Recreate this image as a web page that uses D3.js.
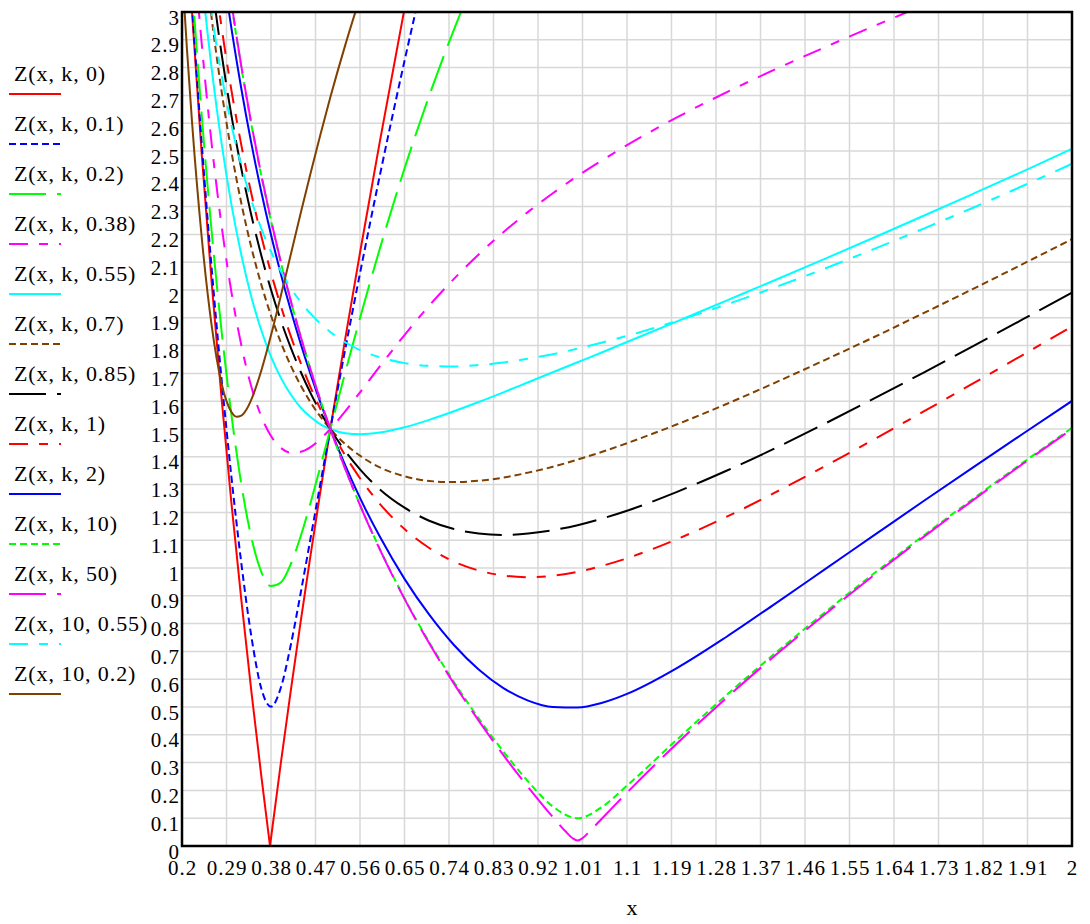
<!DOCTYPE html>
<head>
<meta charset="UTF-8">
<script src="https://d3js.org/d3.v7.min.js"></script>
<style>
	body{ margin: 0; background-color: white; }
	text{ font-family: 'Liberation Serif', 'Times New Roman', serif; fill: black; }
</style>
</head>
<body>
<svg width=1090 height=924></svg>
<script>
	// x values shared by most traces
	var xGrid = [0.2, 0.22, 0.24, 0.26, 0.28, 0.3, 0.32, 0.34, 0.36, 0.38, 0.4, 0.42, 0.44, 0.46, 0.48, 0.5,
		0.53, 0.56, 0.6, 0.65, 0.7, 0.75, 0.8, 0.85, 0.9, 0.95, 1.0, 1.05, 1.1, 1.2, 1.3, 1.4, 1.5, 1.6, 1.7, 1.8, 1.9, 2.0];

	// traces with their own x values (sharp minimum)
	var xZeta0 = [0.2, 0.22, 0.24, 0.26, 0.28, 0.3, 0.32, 0.34, 0.36, 0.378, 0.4, 0.42, 0.44, 0.46, 0.48, 0.5, 0.53, 0.56, 0.6, 0.65, 0.7];
	var xZeta50 = [0.2, 0.22, 0.24, 0.26, 0.28, 0.3, 0.32, 0.34, 0.36, 0.38, 0.4, 0.42, 0.44, 0.46, 0.48, 0.5,
		0.53, 0.56, 0.6, 0.65, 0.7, 0.75, 0.8, 0.85, 0.9, 0.95, 0.975, 0.99, 1.0, 1.01, 1.025, 1.05, 1.1, 1.2, 1.3, 1.4, 1.5, 1.6, 1.7, 1.8, 1.9, 2.0];
	var xK10z02 = [0.2, 0.21, 0.22, 0.24, 0.26, 0.28, 0.29, 0.3, 0.31, 0.32, 0.33, 0.34, 0.36, 0.38, 0.4, 0.42, 0.44, 0.46, 0.48, 0.5, 0.53, 0.56];

	// Z values
	var zZeta0 = [3.6, 3.006, 2.487, 2.026, 1.611, 1.233, 0.885, 0.561, 0.258, 0, 0.3, 0.559, 0.807, 1.046, 1.277, 1.5, 1.823, 2.134, 2.533, 3.012, 3.471];
	var zZeta01 = [3.62, 3.033, 2.524, 2.077, 1.68, 1.327, 1.017, 0.757, 0.569, 0.501, 0.57, 0.723, 0.91, 1.107, 1.305, 1.5, 1.786, 2.06, 2.411, 2.824, 3.213];
	var zZeta02 = [3.676, 3.109, 2.625, 2.21, 1.853, 1.55, 1.301, 1.112, 0.988, 0.935, 0.948, 1.014, 1.114, 1.235, 1.365, 1.5, 1.702, 1.899, 2.148, 2.437, 2.699, 2.937, 3.153];
	var zZeta038 = [3.833, 3.313, 2.883, 2.526, 2.232, 1.992, 1.801, 1.654, 1.547, 1.475, 1.432, 1.415, 1.418, 1.435, 1.464, 1.5,
		1.563, 1.632, 1.725, 1.838, 1.944, 2.04, 2.128, 2.208, 2.281, 2.348, 2.41, 2.467, 2.521, 2.62, 2.71, 2.794, 2.873, 2.95, 3.024];
	var zZeta055 = [4.002, 3.518, 3.122, 2.796, 2.528, 2.307, 2.126, 1.977, 1.857, 1.76, 1.684, 1.624, 1.577, 1.543, 1.517, 1.5,
		1.485, 1.481, 1.487, 1.506, 1.533, 1.564, 1.597, 1.632, 1.668, 1.704, 1.74, 1.776, 1.813, 1.886, 1.961, 2.036, 2.112, 2.189, 2.267, 2.346, 2.426, 2.508];
	var zZeta07 = [4.139, 3.673, 3.292, 2.978, 2.716, 2.497, 2.312, 2.155, 2.022, 1.908, 1.811, 1.728, 1.657, 1.596, 1.544, 1.5,
		1.446, 1.404, 1.362, 1.33, 1.313, 1.309, 1.314, 1.325, 1.343, 1.364, 1.39, 1.418, 1.449, 1.516, 1.589, 1.667, 1.748, 1.831, 1.917, 2.004, 2.093, 2.183];
	var zZeta085 = [4.254, 3.798, 3.424, 3.112, 2.85, 2.627, 2.436, 2.271, 2.127, 2.001, 1.89, 1.793, 1.706, 1.629, 1.561, 1.5,
		1.421, 1.355, 1.283, 1.217, 1.17, 1.14, 1.124, 1.119, 1.124, 1.136, 1.154, 1.178, 1.206, 1.273, 1.349, 1.431, 1.519, 1.61, 1.703, 1.798, 1.894, 1.991];
	var zZeta1 = [4.349, 3.896, 3.523, 3.211, 2.946, 2.718, 2.521, 2.349, 2.197, 2.062, 1.942, 1.834, 1.738, 1.65, 1.571, 1.5,
		1.405, 1.323, 1.231, 1.14, 1.072, 1.023, 0.991, 0.973, 0.967, 0.972, 0.986, 1.008, 1.035, 1.103, 1.183, 1.272, 1.366, 1.463, 1.563, 1.664, 1.766, 1.869];
	var zZeta2 = [4.642, 4.183, 3.798, 3.471, 3.188, 2.941, 2.724, 2.53, 2.356, 2.199, 2.057, 1.927, 1.807, 1.697, 1.595, 1.5,
		1.37, 1.252, 1.113, 0.961, 0.832, 0.723, 0.635, 0.568, 0.523, 0.5, 0.498, 0.515, 0.547, 0.639, 0.751, 0.872, 0.995, 1.118, 1.241, 1.362, 1.482, 1.601];
	var zZeta10 = [4.793, 4.319, 3.921, 3.581, 3.287, 3.029, 2.802, 2.598, 2.415, 2.249, 2.098, 1.96, 1.832, 1.713, 1.603, 1.5,
		1.357, 1.227, 1.069, 0.891, 0.733, 0.59, 0.459, 0.34, 0.232, 0.142, 0.1, 0.141, 0.217, 0.381, 0.541, 0.694, 0.84, 0.981, 1.117, 1.249, 1.378, 1.504];
	var zZeta50 = [4.8, 4.326, 3.927, 3.586, 3.291, 3.033, 2.805, 2.601, 2.418, 2.252, 2.1, 1.961, 1.833, 1.714, 1.603, 1.5,
		1.357, 1.226, 1.067, 0.889, 0.729, 0.584, 0.451, 0.327, 0.212, 0.104, 0.054, 0.028, 0.02, 0.028, 0.054, 0.1, 0.192, 0.367, 0.531, 0.686, 0.833, 0.975, 1.112, 1.244, 1.374, 1.5];
	var zK10z055 = [4.02, 3.599, 3.263, 2.993, 2.773, 2.594, 2.447, 2.325, 2.223, 2.138, 2.067, 2.007, 1.957, 1.915, 1.879, 1.849,
		1.812, 1.784, 1.758, 1.737, 1.727, 1.725, 1.73, 1.739, 1.753, 1.769, 1.789, 1.811, 1.835, 1.888, 1.947, 2.01, 2.077, 2.148, 2.221, 2.296, 2.374, 2.454];
	var zK10z02 = [3.152, 2.867, 2.611, 2.187, 1.872, 1.664, 1.6, 1.561, 1.544, 1.548, 1.569, 1.605, 1.708, 1.837, 1.98, 2.128, 2.276, 2.42, 2.559, 2.693, 2.88, 3.053];

	// legend names
	var traceNames = ["Z(x, k, 0)", "Z(x, k, 0.1)", "Z(x, k, 0.2)", "Z(x, k, 0.38)", "Z(x, k, 0.55)", "Z(x, k, 0.7)",
		"Z(x, k, 0.85)", "Z(x, k, 1)", "Z(x, k, 2)", "Z(x, k, 10)", "Z(x, k, 50)", "Z(x, 10, 0.55)", "Z(x, 10, 0.2)"];

	// axis tick labels
	var xTickLabels = ["0.2", "0.29", "0.38", "0.47", "0.56", "0.65", "0.74", "0.83", "0.92", "1.01", "1.1",
		"1.19", "1.28", "1.37", "1.46", "1.55", "1.64", "1.73", "1.82", "1.91", "2"];
	var yTickLabels = ["0", "0.1", "0.2", "0.3", "0.4", "0.5", "0.6", "0.7", "0.8", "0.9", "1", "1.1", "1.2", "1.3", "1.4", "1.5",
		"1.6", "1.7", "1.8", "1.9", "2", "2.1", "2.2", "2.3", "2.4", "2.5", "2.6", "2.7", "2.8", "2.9", "3"];

	// line styles: colour, dash
	var DOT = "7,4", DASH = "37,11", DADOT = "19,11,9,11";
	var traces = [
		{x: xZeta0, z: zZeta0, color: "#ff0000", dash: null, linear: true},
		{x: xGrid, z: zZeta01, color: "#0000ff", dash: DOT},
		{x: xGrid, z: zZeta02, color: "#00ff00", dash: DASH},
		{x: xGrid, z: zZeta038, color: "#ff00ff", dash: DADOT},
		{x: xGrid, z: zZeta055, color: "#00ffff", dash: null},
		{x: xGrid, z: zZeta07, color: "#804000", dash: DOT},
		{x: xGrid, z: zZeta085, color: "#000000", dash: DASH},
		{x: xGrid, z: zZeta1, color: "#ff0000", dash: DADOT},
		{x: xGrid, z: zZeta2, color: "#0000ff", dash: null},
		{x: xGrid, z: zZeta10, color: "#00ff00", dash: DOT},
		{x: xZeta50, z: zZeta50, color: "#ff00ff", dash: DASH},
		{x: xGrid, z: zK10z055, color: "#00ffff", dash: DADOT},
		{x: xK10z02, z: zK10z02, color: "#804000", dash: null}
	];

	var svg = d3.select("svg");

	// plot area
	var plotLeft = 182, plotRight = 1072, plotTop = 12, plotBottom = 846;

	var x = d3.scaleLinear().domain([0.2, 2]).range([plotLeft, plotRight]);
	var y = d3.scaleLinear().domain([0, 3]).range([plotBottom, plotTop]);

	var xTicks = xTickLabels.map(function(d, i){ return 0.2 + 0.09 * i; });
	var yTicks = yTickLabels.map(function(d){ return +d; });

	// grid
	var grid = svg.append("g").attr("stroke", "#d8d8d8").attr("stroke-width", 1.5);
	grid.selectAll(".gx").data(xTicks).enter().append("line")
		.attr("x1", function(d){ return x(d); }).attr("x2", function(d){ return x(d); })
		.attr("y1", plotTop).attr("y2", plotBottom);
	grid.selectAll(".gy").data(yTicks).enter().append("line")
		.attr("y1", function(d){ return y(d); }).attr("y2", function(d){ return y(d); })
		.attr("x1", plotLeft).attr("x2", plotRight);

	// clip traces to the plot area
	svg.append("clipPath").attr("id", "plotClip")
		.append("rect").attr("x", plotLeft).attr("y", plotTop)
		.attr("width", plotRight - plotLeft).attr("height", plotBottom - plotTop);

	var plot = svg.append("g").attr("clip-path", "url(#plotClip)");

	traces.forEach(function(t){
		var pts = t.x.map(function(v, i){ return [v, t.z[i]]; }).filter(function(p){ return p[1] != null; });
		var line = d3.line()
			.x(function(p){ return x(p[0]); })
			.y(function(p){ return y(p[1]); })
			.curve(t.linear ? d3.curveLinear : d3.curveMonotoneX);
		plot.append("path")
			.datum(pts)
			.attr("d", line)
			.attr("fill", "none")
			.attr("stroke", t.color)
			.attr("stroke-width", 2)
			.attr("stroke-dasharray", t.dash);
	});

	// frame
	svg.append("rect").attr("x", plotLeft).attr("y", plotTop)
		.attr("width", plotRight - plotLeft).attr("height", plotBottom - plotTop)
		.attr("fill", "none").attr("stroke", "black").attr("stroke-width", 2.5);

	// tick labels
	svg.append("g").selectAll("text").data(xTickLabels).enter().append("text")
		.attr("x", function(d, i){ return x(xTicks[i]) + 0.5; })
		.attr("y", 875)
		.attr("text-anchor", "middle")
		.attr("font-size", 21)
		.attr("letter-spacing", 1)
		.text(function(d){ return d; });

	svg.append("g").selectAll("text").data(yTickLabels).enter().append("text")
		.attr("x", 180)
		.attr("y", function(d, i){ return y(yTicks[i]) + 12.5; })
		.attr("text-anchor", "end")
		.attr("font-size", 21)
		.attr("letter-spacing", 1)
		.text(function(d){ return d; });

	svg.append("text").attr("x", 632).attr("y", 915).attr("text-anchor", "middle").attr("font-size", 22).text("x");

	// legend
	var legend = svg.append("g").selectAll("g").data(traces).enter().append("g")
		.attr("transform", function(d, i){ return "translate(0," + (50 * i) + ")"; });
	legend.append("text")
		.attr("x", 14).attr("y", 81)
		.attr("font-size", 22)
		.attr("letter-spacing", 0.9)
		.text(function(d, i){ return traceNames[i]; });
	legend.append("line")
		.attr("x1", 9).attr("x2", 61).attr("y1", 94).attr("y2", 94)
		.attr("stroke", function(d){ return d.color; })
		.attr("stroke-width", 2)
		.attr("stroke-dasharray", function(d){ return d.dash; });
</script>
</body>
